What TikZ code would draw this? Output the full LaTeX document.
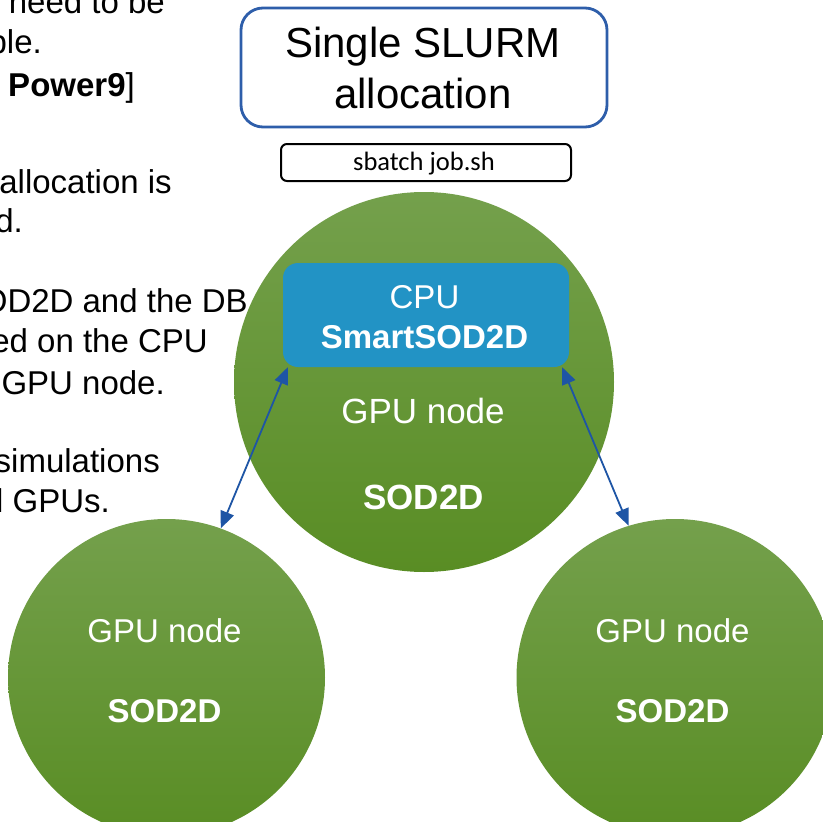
\documentclass[tikz,border=0pt]{standalone}
\usepackage{fontspec}
\setmainfont{Liberation Sans}
\newfontfamily\calib{Carlito}
\usetikzlibrary{arrows.meta}

\definecolor{boxblue}{RGB}{46,94,170}
\definecolor{cpublue}{RGB}{34,147,197}
\definecolor{gtop}{RGB}{116,160,76}
\definecolor{gdark}{RGB}{89,141,36}
\definecolor{arrowblue}{RGB}{30,85,165}

\tikzset{
  gnode/.style={circle, inner sep=0pt, draw=none, top color=gtop, middle color=gdark, bottom color=gdark},
  lefttext/.style={anchor=base east, inner sep=0pt, font=\fontsize{33}{39}\selectfont},
  whitetext/.style={anchor=base, inner sep=0pt, text=white},
  conn/.style={draw=arrowblue, line width=1.8pt, {Triangle[length=17pt,width=14pt]}-{Triangle[length=17pt,width=14pt]}},
}

\begin{document}
\begin{tikzpicture}[x=1pt,y=-1pt]
\useasboundingbox (0,0) rectangle (823,822);
\clip (0,0) rectangle (823,822);

% left explanatory text (cut at the left edge)
\node[lefttext] (t1) at (165,13) {need to be};
\node[lefttext] (t2) at (42,53) {ble.};
\node[lefttext] (t3) at (135,96) {\textbf{Power9}]};
\node[lefttext] (t4) at (172,193) {allocation is};
\node[lefttext] (t5) at (23,232) {d.};
\node[lefttext] (t6) at (248,312) {OD2D and the DB};
\node[lefttext] (t7) at (208,352) {ed on the CPU};
\node[lefttext] (t8) at (165,394) {GPU node.};
\node[lefttext] (t9) at (160,472) {simulations};
\node[lefttext] (t10) at (110,512) {l GPUs.};

% title box
\node[draw=boxblue, line width=2.8pt, rounded corners=22pt, minimum width=366pt, minimum height=119pt, inner sep=0pt] (slurm) at (424,67.5) {};
\node[anchor=base, inner sep=0pt, font=\fontsize{42}{50}\selectfont] (s1) at (423,57) {Single SLURM};
\node[anchor=base, inner sep=0pt, font=\fontsize{42}{50}\selectfont] (s2) at (423,108) {allocation};

% sbatch box
\node[draw=black, line width=2pt, rounded corners=6pt, minimum width=290pt, minimum height=37pt, inner sep=0pt] (sbatch) at (426,162.5) {};
\node[anchor=base, inner sep=0pt, font=\calib\fontsize{26.5}{31}\selectfont] (sb) at (424,170) {sbatch job.sh};

% circles
\node[gnode, minimum size=380pt] (gc) at (424,382) {};
\node[gnode, minimum size=317pt] (gl) at (166.5,677.5) {};
\node[gnode, minimum size=317pt] (gr) at (675,677.5) {};

% CPU box
\node[fill=cpublue, rounded corners=15pt, minimum width=286pt, minimum height=104pt, inner sep=0pt] (cpu) at (426,315) {};
\node[whitetext, font=\fontsize{33}{40}\selectfont] (cpu1) at (424.5,308) {CPU};
\node[whitetext, font=\fontsize{33}{40}\selectfont\bfseries] (cpu2) at (424.5,348) {SmartSOD2D};

% circle texts
\node[whitetext, font=\fontsize{35}{42}\selectfont] (gct1) at (423,423) {GPU node};
\node[whitetext, font=\fontsize{35}{42}\selectfont\bfseries] (gct2) at (423.5,509) {SOD2D};
\node[whitetext, font=\fontsize{33}{40}\selectfont] (glt1) at (164.5,642) {GPU node};
\node[whitetext, font=\fontsize{33}{40}\selectfont\bfseries] (glt2) at (164.5,722) {SOD2D};
\node[whitetext, font=\fontsize{33}{40}\selectfont] (grt1) at (672.5,642) {GPU node};
\node[whitetext, font=\fontsize{33}{40}\selectfont\bfseries] (grt2) at (672.5,722) {SOD2D};

% connectors
\draw[conn] ([xshift=5pt]cpu.south west) -- (gl.70);
\draw[conn] ([xshift=-7pt]cpu.south east) -- (gr.107);
\end{tikzpicture}
\end{document}
